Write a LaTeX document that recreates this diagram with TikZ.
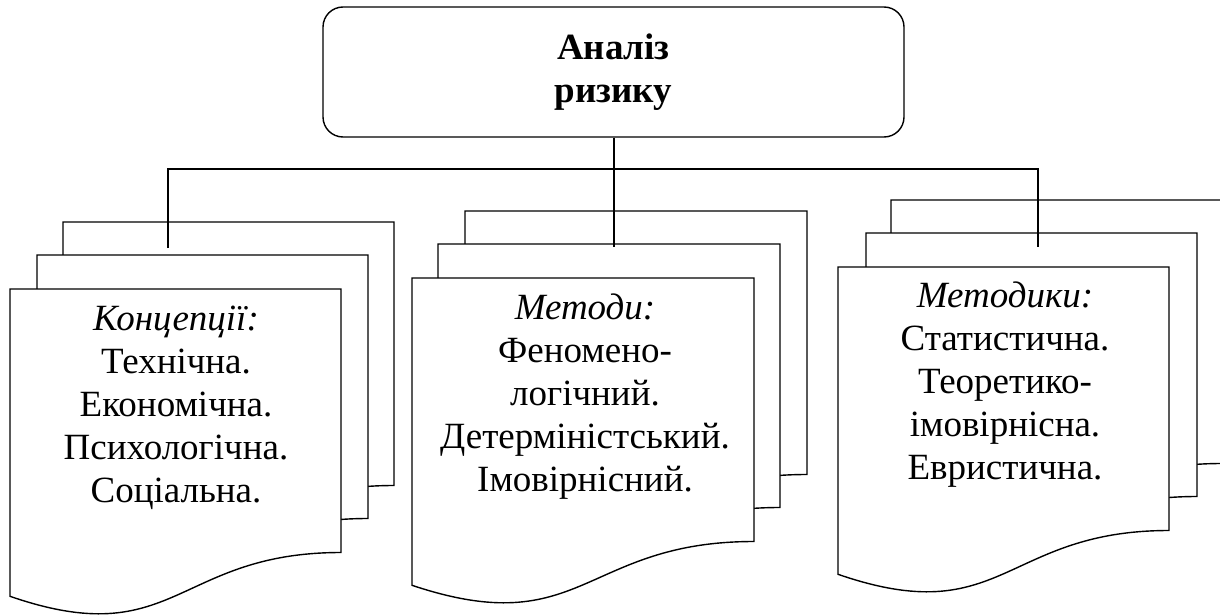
\documentclass[tikz,border=0pt]{standalone}
\usepackage{fontspec}
\setmainfont{Liberation Serif}

\tikzset{
  frame/.style={line width=1.4pt, draw=black},
  sheet/.style={frame, fill=white, line join=miter},
  titlebox/.style={frame, rounded corners=20pt, minimum width=581pt,
    minimum height=130pt, inner sep=0pt, align=center,
    font=\bfseries\fontsize{37}{43}\selectfont},
  % anchored at the baseline of the last line
  listtext/.style={inner sep=0pt, align=center, anchor=base,
    font=\fontsize{37}{43}\selectfont},
  link/.style={frame}
}

% one sheet of a document stack: top-left corner (#1,#2), width #3
\newcommand\docsheet[3]{%
  \draw[sheet] (#1,#2) -- ({#1+#3},#2) -- ({#1+#3},{#2+263.5})
    .. controls ({#1+#3/2},{#2+263.5}) and ({#1+#3/2},{#2+364.4}) ..
    (#1,{#2+307.3}) -- cycle;}

\begin{document}
\begin{tikzpicture}[x=1pt,y=-1pt]
  \useasboundingbox (0,0) rectangle (1220,615);

  % root
  \node[titlebox] (title) at (613.5,72) {Аналіз\\ризику};

  % concepts stack
  \docsheet{63}{222}{331}
  \docsheet{37}{255}{331}
  \docsheet{10}{289}{331}

  % methods stack
  \docsheet{465}{211}{342}
  \docsheet{438}{244}{342}
  \docsheet{412}{278}{342}

  % techniques stack
  \docsheet{891}{200}{331}
  \docsheet{866}{233}{331}
  \docsheet{838}{267}{331}

  % texts on the front sheets
  \node[listtext] (t1) at (176,502)
    {\textit{Концепції:}\\Технічна.\\Економічна.\\Психологічна.\\Соціальна.};
  \node[listtext] (t2) at (585,491)
    {\textit{Методи:}\\Феномено-\\логічний.\\Детерміністський.\\Імовірнісний.};
  \node[listtext] (t3) at (1005,479)
    {\textit{Методики:}\\Статистична.\\Теоретико-\\імовірнісна.\\Евристична.};

  % connector tree
  \coordinate (in1) at (168,248);
  \coordinate (in2) at (614,247);
  \coordinate (in3) at (1038,247);
  \coordinate (barR) at (1038,169);
  \draw[link] (title.south -| in2) -- (in2);
  \draw[link] (in1) |- (barR) -- (in3);
\end{tikzpicture}
\end{document}
